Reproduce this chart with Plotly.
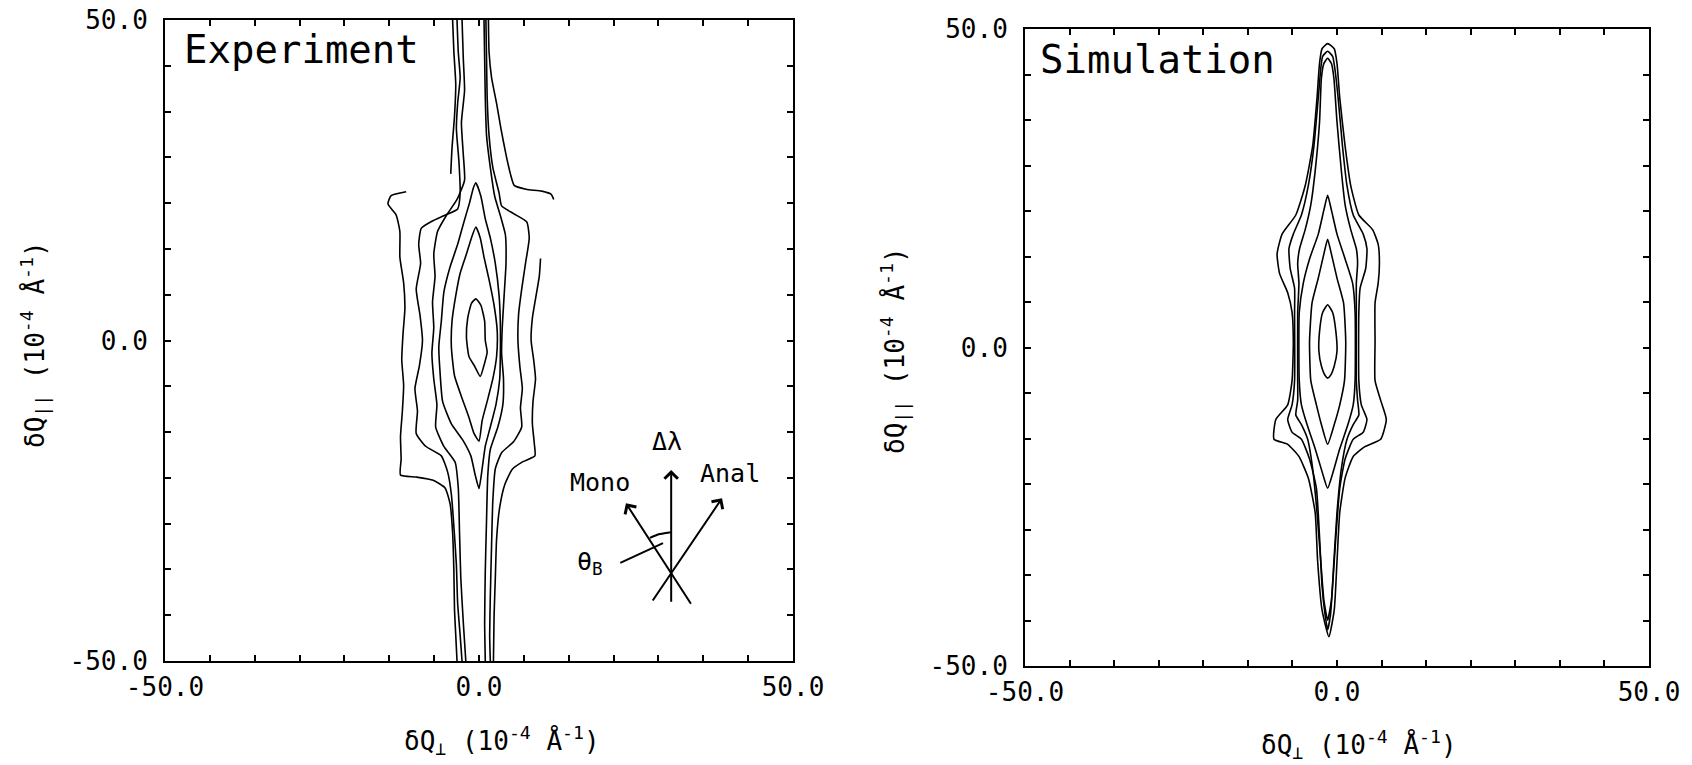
import plotly.graph_objects as go

# ------------------------------------------------------------------
# Data: contour lines, in axis units (1e-4 1/A)
# ------------------------------------------------------------------
# Experiment (left panel)
EXP_A = [(-0.5, 6.5), (0.3, 5.5), (0.9, 3.0), (1.0, 0.0), (1.3, -1.8), (0.9, -3.5), (0.2, -5.6),
         (-0.7, -4.0), (-1.6, -2.5), (-2.0, 0.5), (-1.8, 3.5), (-1.2, 5.8), (-0.5, 6.5)]
EXP_B = [(-0.5, 17.7), (0.2, 16.0), (0.8, 13.0), (1.6, 9.5), (2.4, 5.5), (2.9, 1.5), (2.8, -2.5),
         (2.2, -6.0), (1.3, -9.5), (0.5, -12.5), (0.0, -15.7), (-0.8, -14.5), (-1.6, -12.0),
         (-2.7, -9.0), (-3.9, -5.5), (-4.4, -1.0), (-4.3, 3.0), (-3.7, 7.0), (-3.0, 10.5),
         (-2.0, 13.5), (-1.2, 16.0), (-0.5, 17.7)]
EXP_C = [(-0.5, 24.6), (0.3, 22.5), (1.0, 19.0), (1.8, 16.0), (2.6, 12.0), (3.2, 7.0), (3.4, 2.5),
         (3.4, -2.0), (3.3, -6.0), (2.7, -10.0), (1.8, -13.5), (1.0, -16.5), (0.5, -20.0),
         (0.0, -23.1), (-0.6, -21.0), (-1.3, -18.0), (-2.6, -15.5), (-4.4, -13.0), (-5.8, -9.5),
         (-6.2, -5.0), (-6.4, -1.0), (-6.0, 3.0), (-5.6, 7.5), (-4.6, 11.5), (-3.4, 15.0),
         (-2.4, 18.5), (-1.5, 21.5), (-0.9, 23.8), (-0.5, 24.6)]
EXP_F_LEFT = [(-2.7, 50), (-2.5, 44), (-2.3, 39), (-2.8, 34), (-2.5, 29), (-2.3, 25), (-3.5, 22),
              (-5.2, 19.5), (-6.6, 17.0), (-7.2, 13.5), (-7.0, 10.0), (-7.4, 6.0), (-7.2, 2.0),
              (-7.5, -2.0), (-7.2, -6.0), (-6.7, -10.0), (-6.9, -13.5), (-5.6, -16.5), (-3.8, -19.0),
              (-3.3, -23.0), (-3.1, -30.0), (-2.9, -37.0), (-2.5, -44.0), (-2.1, -50.0)]
EXP_F_RIGHT = [(0.8, 50), (0.9, 44), (1.0, 38), (1.2, 32), (1.8, 27), (2.5, 22.5), (3.4, 19.5),
               (4.2, 16.5), (4.3, 12.0), (4.0, 7.0), (3.7, 2.0), (3.6, -2.0), (3.9, -6.0),
               (3.8, -10.0), (3.0, -13.5), (1.8, -17.0), (1.4, -21.0), (1.2, -28.0), (1.0, -36.0),
               (0.9, -44.0), (1.0, -50.0)]
EXP_D_LEFT = [(-3.5, 50), (-3.3, 45), (-3.0, 41), (-3.4, 37), (-3.6, 33), (-3.2, 28), (-3.0, 23),
              (-3.4, 20.5), (-5.5, 19.5), (-7.5, 18.6), (-9.2, 17.5), (-9.6, 15.0), (-9.3, 12.0),
              (-10.0, 8.0), (-9.4, 4.0), (-9.0, 0.0), (-9.5, -4.0), (-10.2, -7.5), (-9.8, -11.0),
              (-10.0, -14.5), (-8.5, -16.5), (-6.0, -18.0), (-5.0, -20.5), (-4.4, -24.0),
              (-4.0, -29.0), (-3.6, -35.0), (-3.4, -41.0), (-3.0, -46.0), (-2.7, -50.0)]
EXP_D_RIGHT = [(1.1, 50), (1.2, 44), (1.3, 38), (1.6, 32), (2.2, 27), (3.2, 23), (3.6, 21),
               (5.5, 19.8), (7.6, 18.5), (8.0, 16.0), (7.4, 12.0), (6.8, 8.0), (6.3, 4.0),
               (6.2, 0.0), (6.5, -4.0), (6.9, -7.5), (6.6, -10.5), (6.8, -13.5), (5.5, -15.8),
               (3.6, -17.5), (2.6, -20.0), (2.2, -25.0), (2.0, -32.0), (1.8, -40.0), (1.7, -46.0),
               (1.8, -50.0)]
EXP_E_TOPLEFT = [(-4.2, 50), (-4.0, 45), (-3.7, 40), (-3.9, 35), (-4.3, 30), (-4.5, 26)]
EXP_E_LEFT = [(-11.6, 23.2), (-14.0, 22.6), (-14.5, 21.3), (-13.2, 19.6), (-12.6, 17.0),
              (-12.6, 13.0), (-12.0, 9.0), (-11.8, 5.0), (-12.1, 1.0), (-12.3, -3.0),
              (-12.0, -7.0), (-12.2, -11.0), (-12.5, -15.0), (-12.4, -18.5), (-12.5, -21.0),
              (-10.0, -21.3), (-7.3, -21.8), (-5.4, -23.0), (-4.6, -25.5), (-4.2, -30.0),
              (-4.0, -36.0), (-3.9, -42.0), (-3.7, -46.0), (-3.5, -50.0)]
EXP_E_RIGHT_TOP = [(1.5, 50), (1.6, 45), (2.0, 41), (2.8, 37), (3.5, 33), (4.3, 29), (5.0, 26),
                   (5.6, 24.2), (7.5, 23.6), (10.0, 23.3), (11.5, 22.8), (11.9, 22.0)]
EXP_E_RIGHT = [(9.8, 12.8), (9.6, 10.0), (9.0, 6.5), (8.5, 3.5), (8.3, 0.0), (8.7, -3.0),
               (9.0, -6.0), (8.6, -9.5), (8.5, -13.0), (8.8, -16.0), (8.9, -18.0), (7.0, -18.9),
               (5.3, -20.1), (4.1, -22.5), (3.3, -26.0), (2.8, -31.0), (2.6, -37.0), (2.4, -43.0),
               (2.3, -50.0)]

# Simulation (right panel)
SIM_1 = [(-1.5, 47.7), (-0.44, 46.9), (0.0, 44.6), (0.44, 39.2), (1.3, 31.6), (2.2, 25.4),
         (3.5, 20.8), (5.7, 18.5), (6.6, 16.2), (6.8, 13.2), (6.6, 10.1), (6.1, 7.0), (6.1, 0.9),
         (6.1, -5.2), (7.0, -8.3), (7.9, -11.3), (7.0, -14.4), (4.4, -15.6), (2.6, -17.1),
         (1.3, -20.5), (0.44, -25.9), (0.0, -33.6), (-0.44, -41.2), (-1.3, -45.4), (-2.4, -41.2),
         (-3.1, -33.6), (-3.5, -25.9), (-4.6, -20.5), (-6.1, -17.1), (-7.9, -15.2), (-10.1, -14.4),
         (-9.8, -11.3), (-7.9, -9.0), (-7.2, -5.2), (-7.0, 0.9), (-7.2, 5.5), (-7.9, 8.6),
         (-9.2, 11.6), (-9.6, 14.7), (-8.8, 17.8), (-6.6, 20.8), (-5.1, 25.4), (-3.9, 31.6),
         (-3.2, 39.2), (-2.8, 44.6), (-2.4, 46.9), (-1.5, 47.7)]
SIM_2 = [(-1.5, 46.5), (-0.7, 45.7), (-0.35, 43.8), (0.18, 39.2), (0.88, 31.6), (1.6, 25.4),
         (2.6, 20.8), (4.2, 17.8), (4.8, 15.5), (4.6, 12.4), (3.7, 9.3), (3.5, 5.5), (3.5, -5.2),
         (3.9, -9.0), (4.8, -11.3), (4.2, -13.3), (2.6, -14.4), (1.3, -17.5), (0.44, -22.1),
         (-0.18, -29.7), (-0.7, -37.4), (-1.05, -42.0), (-1.5, -44.3), (-1.9, -42.0), (-2.4, -37.4),
         (-2.8, -29.7), (-3.3, -22.1), (-4.4, -17.5), (-5.7, -14.4), (-7.2, -13.3), (-7.9, -11.3),
         (-7.2, -9.0), (-6.8, -5.2), (-6.8, 5.5), (-6.8, 9.3), (-7.5, 12.4), (-7.7, 15.5),
         (-7.0, 17.8), (-5.7, 20.8), (-4.6, 25.4), (-3.7, 31.6), (-3.0, 39.2), (-2.6, 43.8),
         (-2.3, 45.7), (-1.5, 46.5)]
SIM_3 = [(-1.5, 45.4), (-0.9, 44.6), (-0.5, 42.3), (0.0, 35.4), (0.7, 27.7), (1.3, 22.4),
         (2.2, 18.5), (3.1, 15.5), (3.3, 13.2), (3.1, 10.1), (3.1, 5.5), (3.1, -5.2), (3.3, -8.3),
         (3.5, -10.6), (2.6, -12.1), (1.6, -14.4), (0.7, -19.0), (0.0, -25.9), (-0.5, -33.6),
         (-0.9, -39.7), (-1.5, -42.8), (-2.1, -39.7), (-2.6, -33.6), (-3.2, -25.9), (-3.9, -19.0),
         (-4.7, -14.4), (-5.7, -12.1), (-6.6, -10.6), (-6.3, -8.3), (-6.3, -5.2), (-6.3, 5.5),
         (-6.1, 10.1), (-6.3, 13.2), (-6.0, 15.5), (-5.1, 18.5), (-4.2, 22.4), (-3.5, 27.7),
         (-2.8, 35.4), (-2.5, 42.3), (-2.1, 44.6), (-1.5, 45.4)]
SIM_4 = [(-1.5, 23.9), (-0.9, 21.6), (0.0, 17.8), (1.3, 13.9), (2.5, 10.1), (2.9, 5.5), (2.9, -5.2),
         (2.6, -9.0), (1.75, -12.1), (0.44, -15.9), (-0.7, -19.8), (-1.5, -22.1), (-2.3, -19.8),
         (-3.5, -15.9), (-4.8, -12.1), (-5.7, -9.0), (-6.05, -5.2), (-6.05, 5.5), (-5.4, 10.1),
         (-4.4, 13.9), (-3.0, 17.8), (-2.1, 21.6), (-1.5, 23.9)]
SIM_5 = [(-1.5, 17.0), (-0.9, 14.7), (0.0, 10.9), (1.05, 7.0), (1.4, 0.9), (1.2, -5.2), (0.44, -9.0),
         (-0.44, -12.1), (-1.5, -15.2), (-2.5, -12.1), (-3.3, -9.0), (-4.2, -5.2), (-4.4, 0.9),
         (-4.0, 7.0), (-3.0, 10.9), (-2.1, 14.7), (-1.5, 17.0)]
SIM_6 = [(-1.5, 6.7), (-0.7, 5.5), (-0.18, 2.5), (0.0, -0.6), (-0.44, -2.9), (-1.05, -4.4),
         (-1.5, -4.8), (-1.9, -4.4), (-2.5, -2.9), (-2.9, -0.6), (-2.8, 2.5), (-2.3, 5.5), (-1.5, 6.7)]

EXP_LINES = [EXP_A, EXP_B, EXP_C, EXP_F_LEFT, EXP_F_RIGHT, EXP_D_LEFT, EXP_D_RIGHT,
             EXP_E_TOPLEFT, EXP_E_LEFT, EXP_E_RIGHT_TOP, EXP_E_RIGHT]
SIM_LINES = [SIM_1, SIM_2, SIM_3, SIM_4, SIM_5, SIM_6]

# Tick labels
TICK_VALS = [-50, 0, 50]
TICK_TEXT = ["-50.0", "0.0", "50.0"]

# Inset scattering-geometry sketch (left panel, axis units)
ARROW_DLAMBDA = ((30.6, -41.0), (30.6, -20.2))
ARROW_MONO = ((33.9, -41.3), (23.4, -25.4))
ARROW_ANAL = ((27.5, -40.8), (38.7, -24.6))
THETA_ARC = [(27.2, -30.8), (28.8, -30.2), (30.6, -29.9)]
THETA_POINTER = [(22.5, -34.7), (29.3, -31.6)]

FONT = "DejaVu Sans Mono"

fig = go.Figure()


def add_line(pts, xa, ya):
    fig.add_trace(go.Scatter(
        x=[p[0] for p in pts], y=[p[1] for p in pts], mode="lines",
        line=dict(color="black", width=1.6, shape="spline", smoothing=0.5),
        xaxis=xa, yaxis=ya, showlegend=False, hoverinfo="skip"))


for pts in EXP_LINES:
    add_line(pts, "x", "y")
for pts in SIM_LINES:
    add_line(pts, "x2", "y2")

# inset sketch lines
for pts in (THETA_ARC, THETA_POINTER):
    fig.add_trace(go.Scatter(x=[p[0] for p in pts], y=[p[1] for p in pts], mode="lines",
                             line=dict(color="black", width=2, shape="spline"),
                             xaxis="x", yaxis="y", showlegend=False, hoverinfo="skip"))

annotations = []
for (x0, y0), (x1, y1) in (ARROW_DLAMBDA, ARROW_MONO, ARROW_ANAL):
    annotations.append(dict(x=x1, y=y1, ax=x0, ay=y0, xref="x", yref="y", axref="x", ayref="y",
                            showarrow=True, arrowhead=4, arrowsize=1.3, arrowwidth=2,
                            arrowcolor="black", text=""))

label_font = dict(family=FONT, size=25, color="black")
annotations += [
    dict(x=29.9, y=-15.8, xref="x", yref="y", text="Δλ", showarrow=False, font=label_font),
    dict(x=19.3, y=-22.1, xref="x", yref="y", text="Mono", showarrow=False, font=label_font),
    dict(x=40.0, y=-20.7, xref="x", yref="y", text="Anal", showarrow=False, font=label_font),
    dict(x=17.7, y=-34.7, xref="x", yref="y", text="θ<sub>B</sub>", showarrow=False, font=label_font),
    dict(x=182 / 1692, y=1 - 50 / 765, xref="paper", yref="paper", xanchor="left", yanchor="middle",
         text="Experiment", showarrow=False, font=dict(family=FONT, size=39, color="black")),
    dict(x=1038 / 1692, y=1 - 60 / 765, xref="paper", yref="paper", xanchor="left", yanchor="middle",
         text="Simulation", showarrow=False, font=dict(family=FONT, size=39, color="black")),
]

xtitle = "δQ<sub>⊥</sub> (10<sup>-4</sup> Å<sup>-1</sup>)"
ytitle = "δQ<sub>||</sub> (10<sup>-4</sup> Å<sup>-1</sup>)"
title_font = dict(family=FONT, size=26, color="black")
annotations += [
    dict(x=502 / 1692, y=1 - 740 / 765, xref="paper", yref="paper", text=xtitle, showarrow=False,
         font=title_font, xanchor="center", yanchor="middle"),
    dict(x=1359 / 1692, y=1 - 744 / 765, xref="paper", yref="paper", text=xtitle, showarrow=False,
         font=title_font, xanchor="center", yanchor="middle"),
    dict(x=35 / 1692, y=1 - 345 / 765, xref="paper", yref="paper", text=ytitle, showarrow=False,
         font=title_font, textangle=-90, xanchor="center", yanchor="middle"),
    dict(x=895 / 1692, y=1 - 350 / 765, xref="paper", yref="paper", text=ytitle, showarrow=False,
         font=title_font, textangle=-90, xanchor="center", yanchor="middle"),
]


def axis(domain, anchor, standoff):
    return dict(domain=domain, anchor=anchor, range=[-50, 50], showline=True, linecolor="black",
                linewidth=2, mirror="ticks", ticks="inside", ticklen=6, tickwidth=1.5,
                tickcolor="black", tickvals=TICK_VALS, ticktext=TICK_TEXT, showgrid=False,
                zeroline=False, ticklabelstandoff=standoff, automargin=False,
                minor=dict(tick0=-50, dtick=100 / 14, ticks="inside", ticklen=6, tickwidth=1.5,
                           tickcolor="black", showgrid=False),
                tickfont=dict(family=FONT, size=26, color="black"))


fig.update_layout(
    width=1692, height=765,
    margin=dict(l=0, r=0, t=0, b=0, pad=0, autoexpand=False),
    paper_bgcolor="white", plot_bgcolor="white", showlegend=False,
    xaxis=axis([165 / 1692, 793 / 1692], "y", 2),
    yaxis=axis([1 - 661 / 765, 1 - 20 / 765], "x", 10),
    xaxis2=axis([1025 / 1692, 1649 / 1692], "y2", 2),
    yaxis2=axis([1 - 666 / 765, 1 - 29 / 765], "x2", 10),
    annotations=annotations,
)

fig.write_html("out.html")
